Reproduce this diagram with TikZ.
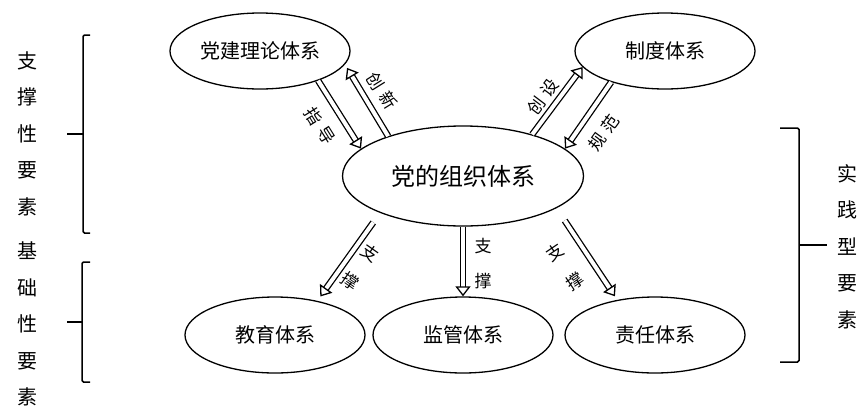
\documentclass[tikz,border=0pt]{standalone}
\usepackage{fontspec}
\setmainfont{Noto Sans CJK SC}
\usetikzlibrary{shapes.geometric, arrows.meta}

\begin{document}
\begin{tikzpicture}[x=1pt, y=-1pt,
  sys/.style={draw, ellipse, line width=1.3pt, minimum width=180pt, minimum height=76pt, inner sep=0pt, font=\fontsize{20}{24}\selectfont},
  core/.style={sys, minimum width=241pt, minimum height=100pt, font=\fontsize{24}{28}\selectfont},
  link/.style={double, double distance=4pt, line width=1.3pt, -{Triangle[open, length=10pt, width=15pt, line width=1.3pt]}},
  lbl/.style={font=\fontsize{17}{35}\selectfont, align=center, inner sep=0pt},
  side/.style={font=\fontsize{20}{36.5}\selectfont, align=center, inner sep=0pt},
  brk/.style={line width=1.5pt, rounded corners=1.5pt}]
  \useasboundingbox (0,0) rectangle (867,405);
  % systems
  \node[core] (org) at (463,176) {党的组织体系};
  \node[sys] (theory) at (260,51) {党建理论体系};
  \node[sys] (rule) at (665,51) {制度体系};
  \node[sys] (edu) at (275,335) {教育体系};
  \node[sys] (watch) at (463,335) {监管体系};
  \node[sys] (duty) at (655,335) {责任体系};
  % links
  \draw[link] (theory.-27) -- (org.165);
  \draw[link, shorten >=4pt] (org.152) -- (theory.-9);
  \draw[link] (org.31) -- (rule.191);
  \draw[link] (rule.210) -- (org.15);
  \draw[link, shorten <=11.7pt, shorten >=5.3pt] (org.204) -- (edu.39);
  \draw[link] (org.south) -- (watch.north);
  \draw[link, shorten <=14.8pt, shorten >=4.3pt] (org.-19) -- (duty.137);
  % link labels
  \node[lbl, rotate=-58] (guide) at (320,126) {指\hspace{6pt}导};
  \node[lbl, rotate=-58] (innov) at (382,91) {创\hspace{6pt}新};
  \node[lbl, rotate=53] (found) at (543,97) {创\hspace{6pt}设};
  \node[lbl, rotate=54] (norm) at (604,133) {规\hspace{6pt}范};
  \node[lbl, rotate=-35] (supa) at (360,267) {支\\撑};
  \node[lbl] (supb) at (483,264) {支\\撑};
  \node[lbl, rotate=34] (supc) at (565,267) {支\\撑};
  % side groups
  \node[side] (prop) at (27,133.5) {支\\撑\\性\\要\\素};
  \node[side] (basis) at (27,324) {基\\础\\性\\要\\素};
  \node[side] (prac) at (847,246.5) {实\\践\\型\\要\\素};
  \draw[brk] (90,35) -- (83,35) -- (83,233) -- (90,233);
  \draw[brk] (83,134) -- (67,134);
  \draw[brk] (90,262) -- (82,262) -- (82,382) -- (90,382);
  \draw[brk] (82,322) -- (67,322);
  \draw[brk] (780,128) -- (799,128) -- (799,362) -- (780,362);
  \draw[brk] (799,245) -- (827,245);
\end{tikzpicture}
\end{document}
